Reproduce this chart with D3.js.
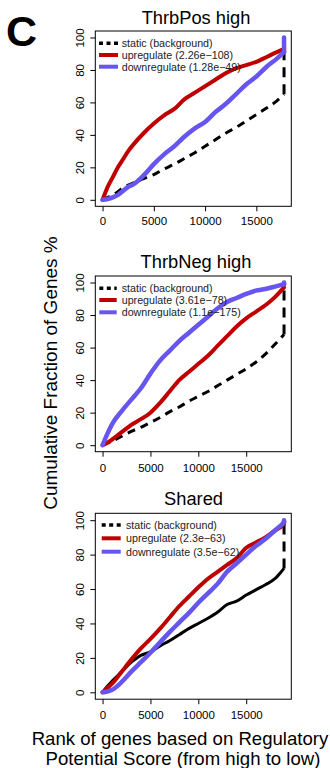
<!DOCTYPE html>
<html>
<head>
<meta charset="utf-8">
<title>Cumulative fraction of genes</title>
<style>
  body { margin: 0; background: #fff; }
  svg { display: block; font-family: "Liberation Sans", Arial, Helvetica, sans-serif; }
  .tick text { font-size: 11.5px; }
  .legend text { font-size: 10.7px; }
</style>
</head>
<body>
<svg id="chart" width="330" height="768"></svg>
<script src="https://d3js.org/d3.v7.min.js"></script>
<script>
// ThrbPos high
const posRank   = [0, 500, 1000, 1500, 2000, 2500, 3000, 4000, 5000, 6000, 7000, 8000, 9000, 10000, 11000, 12000, 13000, 14000, 15000, 16000, 17000, 17700];
const posStatic = [0, 1.5, 3, 5, 7.5, 9, 10.5, 13, 15.5, 19, 22, 25.5, 29, 33, 37, 41, 44.5, 48.5, 52.5, 56.5, 61, 65];
const posUp     = [0, 8, 14, 20, 25, 30, 34, 41, 47, 52, 56, 62, 66, 70, 74, 78, 81, 83, 85, 88, 91, 93];
const posDown   = [0, 0.5, 1.5, 3, 5.5, 8, 9.5, 15, 22, 28, 33, 39, 44, 48, 54, 59, 65, 71, 76, 82, 87, 91];

// ThrbNeg high
const negRank   = [0, 500, 1000, 2000, 3000, 4000, 5000, 6000, 7000, 8000, 9000, 10000, 11000, 12000, 13000, 14000, 15000, 16000, 17000, 18000, 18950];
const negStatic = [0, 1.2, 2.5, 5.5, 8.5, 11, 14, 17, 20.5, 23.5, 27, 30, 33, 36.5, 40, 43.5, 47, 51, 56, 62, 68];
const negUp     = [0, 1.5, 3.5, 8, 12.5, 16, 20, 26, 33, 40, 45, 50, 55, 61, 67, 73, 78, 82, 86, 91, 97];
const negDown   = [0, 7, 13, 21, 28, 35, 44, 52, 58, 64, 69, 74, 79, 84, 88, 90.5, 93, 95, 96, 97.5, 99];

// Shared
const shRank    = [0, 500, 1000, 2000, 3000, 4000, 5000, 6000, 7000, 8000, 9000, 10000, 11000, 12000, 13000, 14000, 15000, 16000, 17000, 18000, 18800, 18950];
const shStatic  = [0, 3.5, 6.5, 12, 17.5, 21.5, 23.5, 27, 30, 33.5, 37, 40, 43, 46.5, 51, 53, 56.5, 59.5, 62.5, 66, 71, 72];
const shUp      = [0, 2.5, 5, 12, 19, 25.5, 31, 37, 43.5, 50, 55.5, 61, 66, 70, 74, 78, 84, 87, 90, 94, 97, 98];
const shDown    = [0, 0.5, 1.5, 6, 12, 17.5, 23, 29, 35, 40.5, 46, 52, 57.5, 63, 70, 75, 80, 85, 89, 94, 98, 99];

const titles = ["ThrbPos high", "ThrbNeg high", "Shared"];
const seriesNames = ["static (background)", "upregulate", "downregulate"];
const pvalues = [
  ["2.26e\u2212108", "1.28e\u221249"],
  ["3.61e\u221278", "1.1e\u2212175"],
  ["2.3e\u221263", "3.5e\u221262"]
];
const xTicks = [0, 5000, 10000, 15000];
const yTicks = [0, 20, 40, 60, 80, 100];

const colors = { static: "#000000", up: "#c00000", down: "#6655ee" };

const panels = [
  { rank: posRank, stat: posStatic, up: posUp, down: posDown, endStatic: 100, endDown: 100,
    top: 31, bottom: 206.3, titleY: 23.5, titleX: 196, tickY: 225.5,
    leg: { x0: 99, x1: 118, tx: 121.7, rows: [12.3, 24, 35.7] }, solidStatic: false },
  { rank: negRank, stat: negStatic, up: negUp, down: negDown, endStatic: 100, endDown: 100,
    top: 276, bottom: 451.7, titleY: 268.3, titleX: 196, tickY: 472,
    leg: { x0: 99.3, x1: 116.7, tx: 121.7, rows: [12.3, 24, 36.3] }, solidStatic: false },
  { rank: shRank, stat: shStatic, up: shUp, down: shDown, endStatic: 99, endDown: 100,
    top: 513.3, bottom: 699.2, titleY: 505, titleX: 193.5, tickY: 719,
    leg: { x0: 101.7, x1: 120.7, tx: 126, rows: [11.7, 25, 38.4] }, solidStatic: true }
];

const svg = d3.select("#chart");
const left = 95.3, right = 291.3;

svg.append("text")
  .attr("x", 6).attr("y", 46)
  .attr("font-size", 43).attr("font-weight", "bold")
  .text("C");

panels.forEach((p, i) => {
  const xmax = p.rank[p.rank.length - 1];
  const x = d3.scaleLinear().domain([-0.04 * xmax, 1.04 * xmax]).range([left, right]);
  const y = d3.scaleLinear().domain([-4, 104]).range([p.bottom, p.top]);
  const g = svg.append("g");

  g.append("text")
    .attr("x", p.titleX).attr("y", p.titleY)
    .attr("text-anchor", "middle").attr("font-size", 18.3)
    .text(titles[i]);

  // x axis
  const xa = g.append("g")
    .attr("transform", `translate(0,${p.bottom})`)
    .call(d3.axisBottom(x).tickValues(xTicks).tickSize(5).tickSizeOuter(0).tickFormat(d3.format("d")));
  xa.select(".domain").remove();
  xa.selectAll("text").attr("dy", null).attr("y", p.tickY - p.bottom).attr("fill", "#000");

  // y axis
  const ya = g.append("g")
    .attr("transform", `translate(${left},0)`)
    .call(d3.axisLeft(y).tickValues(yTicks).tickSize(5).tickSizeOuter(0));
  ya.select(".domain").remove();
  ya.selectAll(".tick text")
    .attr("x", null).attr("dy", null)
    .attr("text-anchor", "middle")
    .attr("transform", "translate(-11,0) rotate(-90)")
    .attr("fill", "#000");

  const curve = d3.line().curve(d3.curveMonotoneX).x(d => x(d[0])).y(d => y(d[1]));
  const straight = d3.line().x(d => x(d[0])).y(d => y(d[1]));
  const lines = g.append("g");

  // static background
  const statPts = p.rank.map((r, k) => [r, p.stat[k]]);
  const statEnd = [[xmax, p.stat[p.stat.length - 1]], [xmax, p.endStatic]];
  lines.append("path")
    .attr("d", curve(statPts))
    .attr("fill", "none").attr("stroke", colors.static).attr("stroke-width", 3)
    .attr("stroke-dasharray", p.solidStatic ? null : "8,6");
  lines.append("path")
    .attr("d", straight(statEnd))
    .attr("fill", "none").attr("stroke", colors.static).attr("stroke-width", 3)
    .attr("stroke-dasharray", "10,7");

  // upregulate
  lines.append("path")
    .attr("d", curve(p.rank.map((r, k) => [r, p.up[k]])))
    .attr("fill", "none").attr("stroke", colors.up).attr("stroke-width", 4)
    .attr("stroke-linejoin", "round").attr("stroke-linecap", "round");

  // downregulate (with its final jump)
  const downPts = p.rank.map((r, k) => [r, p.down[k]]);
  lines.append("path")
    .attr("d", curve(downPts))
    .attr("fill", "none").attr("stroke", colors.down).attr("stroke-width", 4.5)
    .attr("stroke-linejoin", "round").attr("stroke-linecap", "round");
  lines.append("path")
    .attr("d", straight([[xmax, p.down[p.down.length - 1]], [xmax, p.endDown]]))
    .attr("fill", "none").attr("stroke", colors.down).attr("stroke-width", 4.5)
    .attr("stroke-linecap", "round");

  // box
  g.append("rect")
    .attr("x", left).attr("y", p.top)
    .attr("width", right - left).attr("height", p.bottom - p.top)
    .attr("fill", "none").attr("stroke", "#000").attr("stroke-width", 1);

  // legend
  const leg = g.append("g").attr("class", "legend");
  const legColors = [colors.static, colors.up, colors.down];
  const legLabels = [seriesNames[0], `${seriesNames[1]} (${pvalues[i][0]})`, `${seriesNames[2]} (${pvalues[i][1]})`];
  legLabels.forEach((lab, k) => {
    const ly = p.top + p.leg.rows[k];
    leg.append("line")
      .attr("x1", p.leg.x0).attr("x2", p.leg.x1)
      .attr("y1", ly).attr("y2", ly)
      .attr("stroke", legColors[k]).attr("stroke-width", k === 0 ? 3.5 : 4)
      .attr("stroke-dasharray", k === 0 ? "4,3.5" : null);
    leg.append("text")
      .attr("x", p.leg.tx).attr("y", ly + 3.8)
      .attr("fill", "#222")
      .text(lab);
  });
});

// shared axis labels
svg.append("text")
  .attr("transform", "translate(57,373) rotate(-90)")
  .attr("text-anchor", "middle").attr("font-size", 19)
  .text("Cumulative Fraction of Genes %");

svg.append("text")
  .attr("x", 180).attr("y", 745)
  .attr("text-anchor", "middle").attr("font-size", 18.6)
  .text("Rank of genes based on Regulatory");
svg.append("text")
  .attr("x", 183).attr("y", 765)
  .attr("text-anchor", "middle").attr("font-size", 18.6)
  .text("Potential Score (from high to low)");
</script>
</body>
</html>
